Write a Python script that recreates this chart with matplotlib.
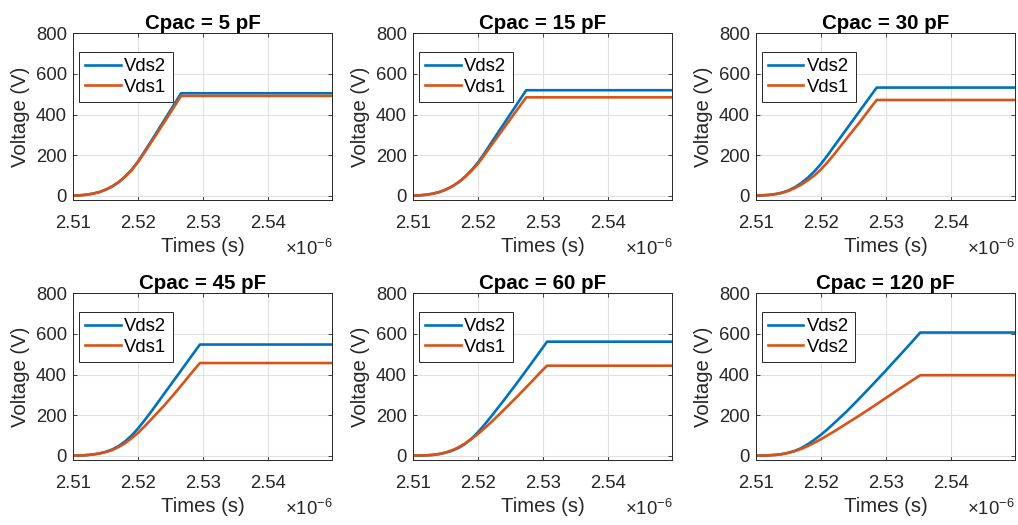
import numpy as np
import matplotlib.pyplot as plt

plt.rcParams['font.family'] = ['Liberation Sans', 'DejaVu Sans']
plt.rcParams['mathtext.fontset'] = 'custom'
plt.rcParams['mathtext.rm'] = 'Liberation Sans'
plt.rcParams['mathtext.it'] = 'Liberation Sans:italic'

# time axis in units of 1e-6 s
t_early = [2.510, 2.511, 2.512, 2.513, 2.514, 2.515, 2.516,
           2.517, 2.518, 2.519, 2.520, 2.521, 2.522]

# Cpac = 5 pF
t_late_5 = [2.524, 2.5266, 2.55]
vds2_5 = [2, 3, 6, 11, 19, 31, 47, 68, 96, 129, 171, 220, 270, 372, 505, 505]
vds1_5 = [2, 3, 6, 11, 19, 31, 47, 68, 95, 127, 168, 215, 264, 362, 492, 492]

# Cpac = 15 pF
t_late_15 = [2.524, 2.526, 2.5274, 2.55]
vds2_15 = [2, 3, 6, 11, 19, 31, 47, 68, 95, 128, 166, 212, 261, 357, 453, 520, 520]
vds1_15 = [2, 3, 6, 11, 19, 31, 47, 68, 94, 125, 160, 203, 248, 336, 424, 485, 485]

# Cpac = 30 pF
t_late_30 = [2.524, 2.526, 2.528, 2.5286, 2.55]
vds2_30 = [2, 3, 5, 9, 16, 27, 43, 64, 90, 121, 157, 199, 243, 331, 419, 507, 533, 533]
vds1_30 = [2, 3, 5, 9, 15, 25, 39, 56, 77, 101, 130, 165, 203, 284, 364, 448, 472, 472]

# Cpac = 45 pF
t_late_45 = [2.524, 2.526, 2.528, 2.5295, 2.55]
vds2_45 = [1, 2, 4, 7, 12, 20, 32, 49, 72, 101, 136, 176, 218, 306, 394, 482, 548, 548]
vds1_45 = [1, 2, 4, 7, 12, 19, 29, 44, 63, 88, 114, 146, 180, 248, 322, 400, 457, 457]

# Cpac = 60 pF
t_late_60 = [2.524, 2.526, 2.528, 2.530, 2.5306, 2.55]
vds2_60 = [1, 2, 3, 5, 9, 16, 26, 40, 60, 86, 118, 155, 194, 276, 360, 447, 535, 562, 562]
vds1_60 = [1, 2, 3, 5, 10, 17, 28, 43, 62, 84, 109, 137, 166, 228, 292, 358, 425, 444, 444]

# Cpac = 120 pF
t_late_120 = [2.524, 2.526, 2.528, 2.530, 2.532, 2.534, 2.5353, 2.55]
vds2_120 = [1, 2, 3, 5, 9, 16, 25, 39, 58, 80, 104, 131, 160,
            220, 285, 352, 420, 490, 560, 607, 607]
vds1_120 = [1, 2, 3, 5, 9, 15, 24, 35, 49, 65, 82, 101, 120,
            160, 200, 242, 285, 328, 370, 397, 397]

titles = ['Cpac = 5 pF', 'Cpac = 15 pF', 'Cpac = 30 pF',
          'Cpac = 45 pF', 'Cpac = 60 pF', 'Cpac = 120 pF']
labels = [('Vds2', 'Vds1')] * 5 + [('Vds2', 'Vds2')]
x_ticks = [2.51, 2.52, 2.53, 2.54]
y_ticks = [0, 200, 400, 600, 800]

panels = [
    (t_late_5, vds2_5, vds1_5),
    (t_late_15, vds2_15, vds1_15),
    (t_late_30, vds2_30, vds1_30),
    (t_late_45, vds2_45, vds1_45),
    (t_late_60, vds2_60, vds1_60),
    (t_late_120, vds2_120, vds1_120),
]

W, H = 1018, 525
lefts = [73.3, 413.3, 756]
tops = [33.3, 293.3]
aw, ah = 259, 166.7

fig = plt.figure(figsize=(W / 100, H / 100), dpi=100)
dark = '#262626'

for i, (t_late, v2, v1) in enumerate(panels):
    r, c = divmod(i, 3)
    ax = fig.add_axes([lefts[c] / W, 1 - (tops[r] + ah) / H, aw / W, ah / H])
    t = t_early + t_late
    ax.plot(t, v2, color='#0072BD', lw=1.9, label=labels[i][0])
    ax.plot(t, v1, color='#D95319', lw=1.9, label=labels[i][1])
    ax.set_xlim(2.51, 2.5499)
    ax.set_ylim(-20, 800)
    ax.set_xticks(x_ticks)
    ax.set_xticklabels(['%.2f' % x for x in x_ticks])
    ax.set_yticks(y_ticks)
    ax.grid(True, color='#e2e2e2', lw=0.8)
    ax.set_axisbelow(True)
    ax.tick_params(direction='in', length=3, width=0.6, colors=dark,
                   labelsize=13.3, top=True, right=True)
    ax.tick_params(axis='x', pad=11)
    ax.tick_params(axis='y', pad=4.5)
    for s in ax.spines.values():
        s.set_color(dark)
        s.set_linewidth(0.7)
    ax.set_title(titles[i], fontsize=14.8, fontweight='bold', pad=3)
    ax.set_xlabel('Times (s)', fontsize=14.6, color=dark, labelpad=3.5)
    ax.set_ylabel('Voltage (V)', fontsize=14.6, color=dark, labelpad=4)
    ax.text(1.0, -0.232, r'$\times10^{-6}$', transform=ax.transAxes,
            ha='right', va='top', fontsize=13.3, color=dark)
    leg = ax.legend(loc='upper left', bbox_to_anchor=(0.022, 0.89),
                    borderaxespad=0, fontsize=13.3, fancybox=False,
                    framealpha=1, edgecolor=dark, handlelength=1.9,
                    handletextpad=0.2, labelspacing=0.2, borderpad=0.35)
    leg.get_frame().set_linewidth(0.7)

fig.savefig('out.png', dpi=100)
